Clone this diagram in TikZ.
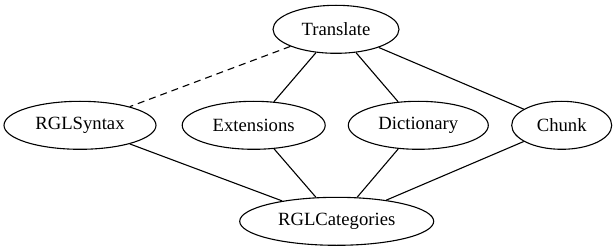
\documentclass[tikz,border=0pt]{standalone}
\usepackage{fontspec}
\setmainfont{Liberation Serif}
\usetikzlibrary{shapes.geometric}
\begin{document}
\begin{tikzpicture}[x=1pt,y=-1pt,
  nd/.style={draw,ellipse,inner sep=0pt,minimum height=48pt,line width=1.1pt,
    font=\fontsize{18.67}{22}\selectfont},
  edge/.style={line width=1.1pt},
  dedge/.style={line width=1.1pt,dash pattern=on 7pt off 5pt}]
\useasboundingbox (0,0) rectangle (615,251);
\node[nd,minimum width=126pt] (tr) at (336,29.3) {Translate};
\node[nd,minimum width=152pt] (syn) at (80,125.3) {RGLSyntax};
\node[nd,minimum width=143pt] (ext) at (253.7,125.3) {Extensions};
\node[nd,minimum width=140pt] (dic) at (418.3,125.3) {Dictionary};
\node[nd,minimum width=100pt] (ch) at (561.7,125.3) {Chunk};
\node[nd,minimum width=194pt] (cat) at (336.7,221.3) {RGLCategories};
\draw[dedge] (tr) -- (syn);
\draw[edge] (tr) -- (ext);
\draw[edge] (tr) -- (dic);
\draw[edge] (tr) -- (ch);
\draw[edge] (syn) -- (cat);
\draw[edge] (ext) -- (cat);
\draw[edge] (dic) -- (cat);
\draw[edge] (ch) -- (cat);
\end{tikzpicture}
\end{document}
